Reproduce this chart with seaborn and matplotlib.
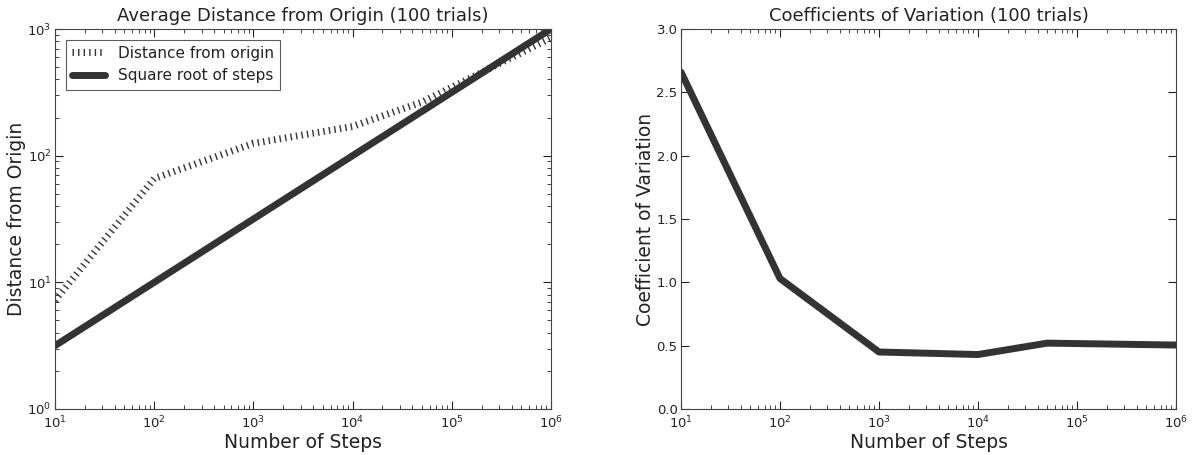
import numpy as np
import pandas as pd
import matplotlib
matplotlib.use("Agg")
import matplotlib.pyplot as plt
import seaborn as sns

# =========================
# DATA
# =========================
num_steps = [10, 100, 1000, 10000, 50000, 1000000]
mean_distance = [7.2, 66, 125, 170, 265, 850]
sqrt_steps = [np.sqrt(n) for n in num_steps]
coef_variation = [2.66, 1.03, 0.45, 0.43, 0.52, 0.505]

dist_df = pd.DataFrame({"steps": num_steps, "dist": mean_distance, "sqrt": sqrt_steps})
cv_df = pd.DataFrame({"steps": num_steps, "cv": coef_variation})

# =========================
# STYLE
# =========================
sns.set_style("ticks")
plt.rcParams["font.family"] = ["DejaVu Sans"]
plt.rcParams["xtick.direction"] = "in"
plt.rcParams["ytick.direction"] = "in"
plt.rcParams["xtick.top"] = True
plt.rcParams["ytick.right"] = True
plt.rcParams["lines.scale_dashes"] = False
plt.rcParams["text.color"] = "#222222"
plt.rcParams["axes.labelcolor"] = "#222222"
plt.rcParams["xtick.color"] = "#222222"
plt.rcParams["ytick.color"] = "#222222"

line_color = "#333333"

fig = plt.figure(figsize=(11.94, 4.55), dpi=100)
W, H = 1194, 455
ax1 = fig.add_axes([55 / W, 46 / H, 496 / W, 380 / H])
ax2 = fig.add_axes([681 / W, 46 / H, 495 / W, 380 / H])

# =========================
# LEFT: DISTANCE
# =========================
sns.lineplot(data=dist_df, x="steps", y="dist", ax=ax1, color=line_color,
             linestyle=(0, (1, 3)), linewidth=5, label="Distance from origin")
sns.lineplot(data=dist_df, x="steps", y="sqrt", ax=ax1, color=line_color,
             linestyle="-", linewidth=5, label="Square root of steps")
for ln in ax1.get_lines():
    ln.set_dash_capstyle("butt")
ax1.set_xscale("log")
ax1.set_yscale("log")
ax1.set_xlim(10, 1e6)
ax1.set_ylim(1, 1e3)
ax1.set_title("Average Distance from Origin (100 trials)", fontsize=13)
ax1.set_xlabel("Number of Steps", fontsize=13.5, labelpad=1)
ax1.set_ylabel("Distance from Origin", fontsize=13.5, labelpad=1)
leg = ax1.legend(loc="upper left", fontsize=11, fancybox=False, handlelength=2.2,
                 frameon=True, edgecolor="#333333", borderaxespad=0.7)
leg.get_frame().set_linewidth(0.8)
for ln in leg.get_lines():
    ln.set_dash_capstyle("butt")

# =========================
# RIGHT: COEFFICIENT OF VARIATION
# =========================
sns.lineplot(data=cv_df, x="steps", y="cv", ax=ax2, color=line_color, linewidth=5)
ax2.set_xscale("log")
ax2.set_xlim(10, 1e6)
ax2.set_ylim(0, 3.0)
ax2.set_yticks(np.arange(0, 3.01, 0.5))
ax2.set_title("Coefficients of Variation (100 trials)", fontsize=13)
ax2.set_xlabel("Number of Steps", fontsize=13.5, labelpad=1)
ax2.set_ylabel("Coefficient of Variation", fontsize=13.5, labelpad=1)

for ax in (ax1, ax2):
    ax.tick_params(which="major", length=6, labelsize=9.5)
    ax.tick_params(axis="y", pad=2.5)
    ax.tick_params(axis="x", pad=4)
    ax.tick_params(which="minor", length=3)
    for s in ax.spines.values():
        s.set_color("#444444")
        s.set_linewidth(0.8)

fig.savefig("out.png", dpi=100)
